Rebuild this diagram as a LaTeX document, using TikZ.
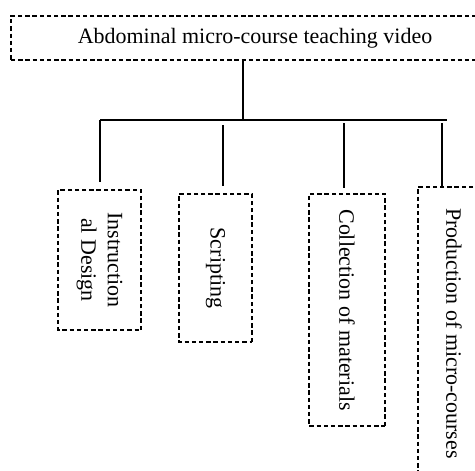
\documentclass[tikz,border=0pt]{standalone}
\usepackage{fontspec}
\setmainfont{Liberation Serif}
\usepackage{tikz}
\usetikzlibrary{positioning,calc}
\tikzset{
  dbox/.style={rectangle, draw=black, dash pattern=on 2.5pt off 1.6pt, line width=0.6pt,
               align=center, inner sep=2pt, font=\fontsize{12.5}{15}\selectfont},
  vbox/.style={dbox, rotate=-90},
  link/.style={line width=1.2pt, color=black},
}
\begin{document}
\begin{tikzpicture}
    \clip (0,0) rectangle (9.5,-9.4);
    \node[dbox, minimum width=9.76cm, minimum height=0.88cm] (video) at (5.1,-0.76) {Abdominal micro-course teaching video};
    % sub-tasks, turned on their side
    \node[vbox, minimum width=2.8cm,  minimum height=1.66cm] (design)  at (1.99,-5.2)  {Instruction\\al Design};
    \node[vbox, minimum width=2.96cm, minimum height=1.46cm] (script)  at (4.31,-5.36) {Scripting};
    \node[vbox, minimum width=4.64cm, minimum height=1.52cm] (collect) at (6.94,-6.2)  {Collection of materials};
    \node[vbox, minimum width=5.86cm, minimum height=1.44cm] (produce) at (9.08,-6.67) {Production of micro-courses};
    % tree
    \coordinate (hub) at (4.86,-2.4);
    \coordinate (j1) at (2.0,-2.4);
    \coordinate (j2) at (4.46,-2.5);
    \coordinate (j3) at (6.88,-2.46);
    \coordinate (j4) at (8.84,-2.46);
    \coordinate (jR) at (8.94,-2.4);
    \draw[link] (hub |- video.south) -- (hub);
    \draw[link] (j1) -- (jR);
    \draw[link, shorten >=4pt] (j1) -- (j1 |- design.west);
    \draw[link, shorten >=4pt] (j2) -- (j2 |- script.west);
    \draw[link, shorten >=3pt] (j3) -- (j3 |- collect.west);
    \draw[link] (j4) -- (j4 |- produce.west);
\end{tikzpicture}
\end{document}
